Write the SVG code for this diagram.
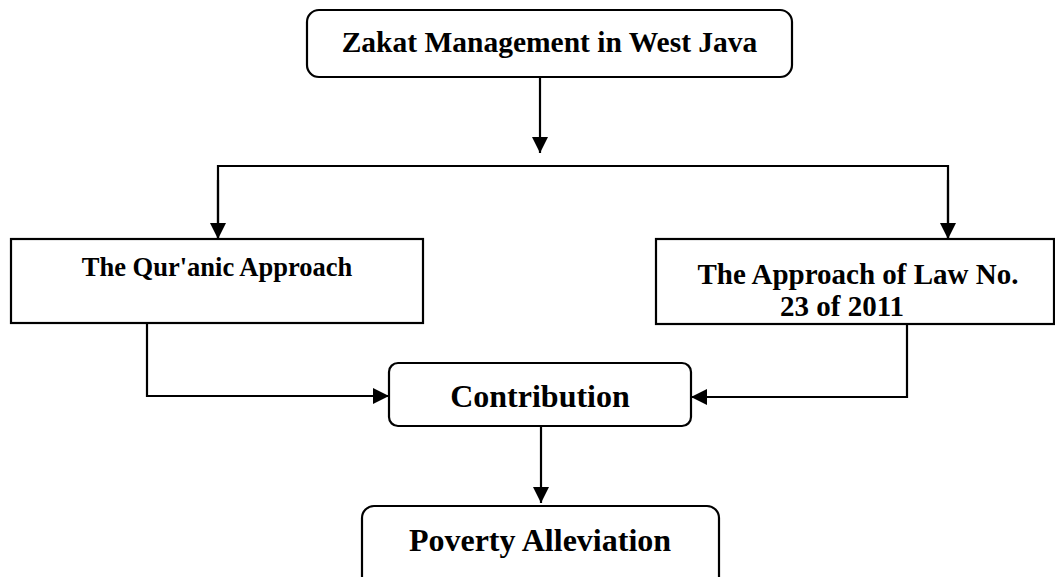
<svg xmlns="http://www.w3.org/2000/svg" width="1055" height="577" viewBox="0 0 1055 577">
<style>
.box{fill:#fff;stroke:#000;stroke-width:2.2}
.t{font-family:"Liberation Serif","Times New Roman",serif;font-weight:bold;fill:#000;text-anchor:middle}
.c{fill:none;stroke:#000;stroke-width:2.2}
</style>
<defs>
<marker id="ah" markerWidth="16" markerHeight="16" refX="16" refY="8" orient="auto" markerUnits="userSpaceOnUse">
<path d="M0,0 L16,8 L0,16 Z" fill="#000"/>
</marker>
</defs>
<rect width="1055" height="577" fill="#fff"/>
<g id="connectors">
<line class="c" x1="540" y1="77" x2="540" y2="153" marker-end="url(#ah)"/>
<polyline class="c" points="218,239 218,166 948,166 948,239"/>
<line class="c" x1="218" y1="180" x2="218" y2="239" marker-end="url(#ah)"/>
<line class="c" x1="948" y1="180" x2="948" y2="239" marker-end="url(#ah)"/>
<polyline class="c" points="147,323 147,396 389,396" marker-end="url(#ah)"/>
<polyline class="c" points="907,324 907,397 691,397" marker-end="url(#ah)"/>
<line class="c" x1="541" y1="426" x2="541" y2="503" marker-end="url(#ah)"/>
</g>
<g id="zakat">
<rect class="box" x="307" y="10" width="485" height="67" rx="12"/>
<text class="t" x="549.5" y="52" font-size="29.5">Zakat Management in West Java</text>
</g>
<g id="quranic">
<rect class="box" x="11" y="239" width="412" height="84"/>
<text class="t" x="217" y="276" font-size="26.5">The Qur'anic Approach</text>
</g>
<g id="law">
<rect class="box" x="656" y="239" width="398" height="85"/>
<text class="t" x="858" y="284" font-size="29">The Approach of Law No.</text>
<text class="t" x="842" y="316" font-size="29">23 of 2011</text>
</g>
<g id="contribution">
<rect class="box" x="389" y="363" width="302" height="63" rx="9"/>
<text class="t" x="540" y="407" font-size="32">Contribution</text>
</g>
<g id="poverty">
<rect class="box" x="362" y="506" width="357" height="90" rx="12"/>
<text class="t" x="540" y="551" font-size="32">Poverty Alleviation</text>
</g>
</svg>
